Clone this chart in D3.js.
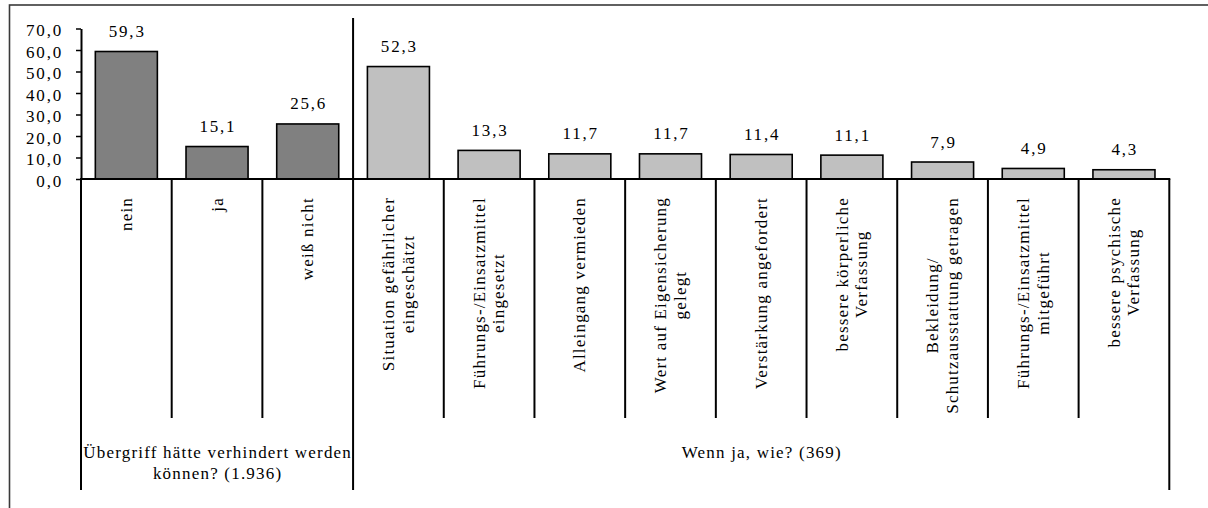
<!DOCTYPE html>
<html>
<head>
<meta charset="utf-8">
<script src="https://cdn.jsdelivr.net/npm/d3@7"></script>
<style>
  html, body { margin: 0; padding: 0; background: #fff; }
  svg { display: block; }
</style>
</head>
<body>
<script>
// Kategorien (Zeilen eines Labels durch "\n" getrennt)
const categories = [
  "nein",
  "ja",
  "weiß nicht",
  "Situation gefährlicher\neingeschätzt",
  "Führungs-/Einsatzmittel\neingesetzt",
  "Alleingang vermieden",
  "Wert auf Eigensicherung\ngelegt",
  "Verstärkung angefordert",
  "bessere körperliche\nVerfassung",
  "Bekleidung/\nSchutzausstattung getragen",
  "Führungs-/Einsatzmittel\nmitgeführt",
  "bessere psychische\nVerfassung"
];
// Anteile in Prozent
const values = [59.3, 15.1, 25.6, 52.3, 13.3, 11.7, 11.7, 11.4, 11.1, 7.9, 4.9, 4.3];
// Gruppenzugehörigkeit je Kategorie
const groupOf = [0, 0, 0, 1, 1, 1, 1, 1, 1, 1, 1, 1];
const groupLabels = [
  "Übergriff hätte verhindert werden\nkönnen? (1.936)",
  "Wenn ja, wie? (369)"
];
const yTicks = [0, 10, 20, 30, 40, 50, 60, 70];
const groupFill = ["#808080", "#c0c0c0"];

const W = 1208, H = 508;
const plotLeft = 81, plotRight = 1169.3, yBase = 179, yTop = 28.5;
const catLineBottom = 418, groupLineBottom = 490, dividerTop = 18;
const fontSize = 17;
const textSpacing = 1.2, numberSpacing = 1.8;
const FONT = "Liberation Serif";

const svg = d3.select("body").append("svg")
  .attr("width", W).attr("height", H);

function serifText(sel) {
  return sel.attr("font-family", FONT).attr("fill", "#000").attr("font-size", fontSize);
}

// Rahmen des Diagrammbereichs
svg.append("rect")
  .attr("x", 9.5).attr("y", 5)
  .attr("width", W + 20).attr("height", H + 20)
  .attr("fill", "none").attr("stroke", "#3a3a3a").attr("stroke-width", 1.6);

const x = d3.scaleBand()
  .domain(d3.range(categories.length))
  .range([plotLeft, plotRight])
  .paddingInner(0.316)
  .paddingOuter(0.158);

const y = d3.scaleLinear().domain([0, 70]).range([yBase, yTop]);

const fmt = v => d3.format(".1f")(v).replace(".", ",");

// Y-Achse
const yAxis = d3.axisLeft(y)
  .tickValues(yTicks)
  .tickSize(5)
  .tickSizeOuter(0)
  .tickPadding(13)
  .tickFormat(fmt);

const gy = svg.append("g")
  .attr("transform", `translate(${plotLeft},0)`)
  .call(yAxis)
  .attr("font-family", FONT)
  .attr("font-size", fontSize);
gy.select(".domain").attr("stroke", "#000").attr("stroke-width", 2);
gy.selectAll(".tick line").attr("stroke", "#000").attr("stroke-width", 1.5);
gy.selectAll(".tick text")
  .call(serifText)
  .attr("letter-spacing", numberSpacing)
  .attr("dy", "0.42em");

// Balken
svg.append("g").selectAll("rect")
  .data(values)
  .join("rect")
  .attr("x", (d, i) => x(i))
  .attr("y", d => y(d))
  .attr("width", x.bandwidth())
  .attr("height", d => yBase - y(d))
  .attr("fill", (d, i) => groupFill[groupOf[i]])
  .attr("stroke", "#000")
  .attr("stroke-width", 1.6);

// Wertbeschriftungen
svg.append("g").selectAll("text")
  .data(values)
  .join("text")
  .call(serifText)
  .attr("x", (d, i) => x(i) + x.bandwidth() / 2 + numberSpacing / 2)
  .attr("y", d => y(d) - 14.5)
  .attr("text-anchor", "middle")
  .attr("letter-spacing", numberSpacing)
  .text(fmt);

// Kategorie-Trennlinien
const step = x.step();
const boundaries = d3.range(categories.length + 1);
const lines = svg.append("g").attr("stroke", "#000").attr("stroke-width", 2);
boundaries.forEach(i => {
  const bx = plotLeft + i * step;
  const isGroupEdge = i === 0 || i === categories.length || groupOf[i] !== groupOf[i - 1];
  let top = yBase;
  if (i > 0 && i < categories.length && isGroupEdge) top = dividerTop;
  lines.append("line")
    .attr("x1", bx).attr("x2", bx)
    .attr("y1", top)
    .attr("y2", isGroupEdge ? groupLineBottom : catLineBottom);
});

// Horizontale Achsenlinie
lines.append("line")
  .attr("x1", plotLeft - 1).attr("x2", plotRight + 1)
  .attr("y1", yBase).attr("y2", yBase);

// Gedrehte Kategoriebeschriftungen
const catTop = 197, rotLineGap = 19.7, rotShift = 5.5;
categories.forEach((label, i) => {
  const parts = label.split("\n");
  const cx = x(i) + x.bandwidth() / 2;
  const g = svg.append("g");
  const texts = parts.map((p, k) => g.append("text")
    .call(serifText)
    .attr("text-anchor", "middle")
    .attr("letter-spacing", textSpacing)
    .attr("y", (k - (parts.length - 1) / 2) * rotLineGap + rotShift)
    .text(p));
  const L = d3.max(texts, t => t.node().getComputedTextLength());
  g.attr("transform", `translate(${cx},${catTop + L / 2}) rotate(-90)`);
});

// Gruppenbeschriftungen
const groupBaseline = 458, groupLineGap = 21;
groupLabels.forEach((label, gi) => {
  const idx = d3.range(categories.length).filter(i => groupOf[i] === gi);
  const left = plotLeft + d3.min(idx) * step;
  const right = plotLeft + (d3.max(idx) + 1) * step;
  const cx = (left + right) / 2;
  label.split("\n").forEach((p, k) => {
    svg.append("text")
      .call(serifText)
      .attr("x", cx + textSpacing / 2)
      .attr("y", groupBaseline + k * groupLineGap)
      .attr("text-anchor", "middle")
      .attr("letter-spacing", textSpacing)
      .text(p);
  });
});
</script>
</body>
</html>
